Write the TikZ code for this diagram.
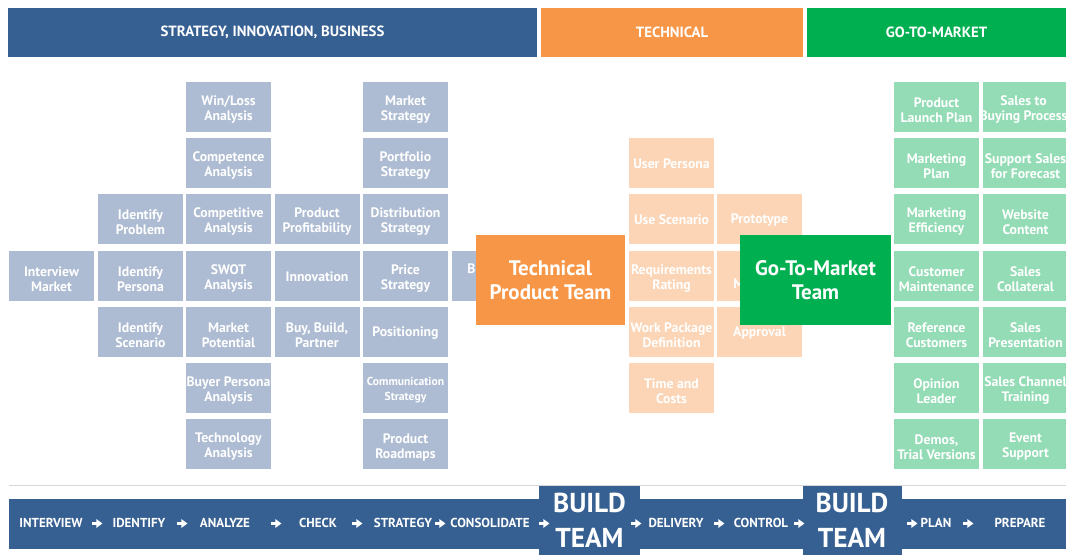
\documentclass[tikz,border=0pt]{standalone}
\usepackage{fontspec}
\setmainfont{PT Sans}
\usetikzlibrary{arrows.meta}
\definecolor{hblue}{RGB}{55,96,146}
\definecolor{horange}{RGB}{247,150,70}
\definecolor{hgreen}{RGB}{0,176,80}
\definecolor{tblue}{RGB}{173,188,210}
\definecolor{torange}{RGB}{251,213,181}
\definecolor{tgreen}{RGB}{147,220,181}
\definecolor{sepgray}{RGB}{215,215,215}
\tikzset{
  tile/.style={rectangle, minimum width=63.75pt, minimum height=37.5pt, inner sep=0pt},
  btile/.style={tile, fill=tblue},
  otile/.style={tile, fill=torange},
  gtile/.style={tile, fill=tgreen},
  tiletext/.style={inner sep=0pt, align=center, text=white, font=\fontsize{10.3}{11.25}\selectfont\bfseries},
  smalltext/.style={tiletext, font=\fontsize{8.7}{11}\selectfont\bfseries},
  hdr/.style={rectangle, minimum height=36.75pt, inner sep=0pt, text=white,
    font=\fontsize{11.1}{13}\selectfont\bfseries},
  team/.style={rectangle, minimum height=67.5pt, inner sep=0pt, align=center, text=white,
    font=\fontsize{15.75}{18}\selectfont\bfseries},
  bartext/.style={inner sep=0pt, text=white, font=\fontsize{9.75}{11}\selectfont\bfseries},
  buildbox/.style={rectangle, fill=hblue, minimum height=51.75pt, inner sep=0pt},
  buildtext/.style={inner sep=0pt, anchor=base, text=white, font=\fontsize{20.5}{28}\selectfont\bfseries},
  barrow/.style={white, line width=2.2pt, -{Triangle[length=4.5pt,width=6.2pt]}},
  hidden/.style={inner sep=0pt, text=white, font=\fontsize{10.3}{11.25}\selectfont\bfseries, anchor=west}
}
% #1 tile style, #2 name, #3 position, #4 text shift (px), #5 text
\newcommand\tileat[5]{%
  \node[#1] (#2) at (#3) {};
  \node[tiletext] (#2t) at ([yshift=-#4*0.75pt]#2.center) {#5};}
\begin{document}
\begin{tikzpicture}[x=0.75pt,y=-0.75pt]
\useasboundingbox (0,0) rectangle (1066,555);
\fill[white] (0,0) rectangle (1066,555);
% headers
\node[hdr, fill=hblue, minimum width=396.75pt] (h1) at (272.5,32.5) {STRATEGY, INNOVATION, BUSINESS};
\node[hdr, fill=horange, minimum width=196.5pt] (h2) at (672,32.5) {TECHNICAL};
\node[hdr, fill=hgreen, minimum width=194.25pt] (h3) at (936.5,32.5) {GO-TO-MARKET};
% strategy tiles
\tileat{btile}{im}{51.5,276}{3}{Interview\\Market}
\tileat{btile}{ipa}{140.5,219}{3}{Identify\\Problem}
\tileat{btile}{ipb}{140.5,276}{3}{Identify\\Persona}
\tileat{btile}{is}{140.5,332}{3}{Identify\\Scenario}
\tileat{btile}{wl}{228.5,107}{3}{Win/Loss\\Analysis}
\tileat{btile}{ca}{228.5,163}{3}{Competence\\Analysis}
\tileat{btile}{cpa}{228.5,219}{3}{Competitive\\Analysis}
\tileat{btile}{sw}{228.5,276}{3}{SWOT\\Analysis}
\tileat{btile}{mp}{228.5,332}{3}{Market\\Potential}
\tileat{btile}{bp}{228.5,388}{3}{Buyer Persona\\Analysis}
\tileat{btile}{ta}{228.5,444}{3}{Technology\\Analysis}
\tileat{btile}{pp}{317,219}{3}{Product\\Profitability}
\tileat{btile}{inn}{317,276}{1}{Innovation}
\tileat{btile}{bbp}{317,332}{3}{Buy, Build,\\Partner}
\tileat{btile}{ms}{405.5,107}{3}{Market\\Strategy}
\tileat{btile}{ps}{405.5,163}{3}{Portfolio\\Strategy}
\tileat{btile}{ds}{405.5,219}{3}{Distribution\\Strategy}
\tileat{btile}{prs}{405.5,276}{3}{Price\\Strategy}
\tileat{btile}{pos}{405.5,332}{1}{Positioning}
\node[btile] (cs) at (405.5,388) {};
\node[smalltext] (cst) at ([yshift=-1.8pt]cs.center) {Communication\\Strategy};
\tileat{btile}{prm}{405.5,444}{3}{Product\\Roadmaps}
\node[btile] (bx) at (494.5,276) {};
\node[hidden] (bxt) at (467,269) {B};
% technical tiles
\tileat{otile}{up}{671.5,163}{1}{User Persona}
\tileat{otile}{us}{671.5,219}{1}{Use Scenario}
\tileat{otile}{rr}{671.5,276}{3}{Requirements\\Rating}
\tileat{otile}{wp}{671.5,332}{3}{Work Package\\Definition}
\tileat{otile}{tc}{671.5,388}{3}{Time and\\Costs}
\tileat{otile}{pt}{759.5,219}{1}{Prototype}
\node[otile] (mx) at (759.5,276) {};
\node[hidden] (mxt) at (733,284) {M};
\tileat{otile}{ap}{759.5,332}{1}{Approval}
% go-to-market tiles
\tileat{gtile}{ga}{936.5,107}{3}{Product\\Launch Plan}
\tileat{gtile}{gb}{936.5,163}{3}{Marketing\\Plan}
\tileat{gtile}{gc}{936.5,219}{3}{Marketing\\Efficiency}
\tileat{gtile}{gd}{936.5,276}{3}{Customer\\Maintenance}
\tileat{gtile}{ge}{936.5,332}{3}{Reference\\Customers}
\tileat{gtile}{gf}{936.5,388}{3}{Opinion\\Leader}
\tileat{gtile}{gg}{936.5,444}{3}{Demos,\\Trial Versions}
\node[gtile] (sa) at (1025.5,107) {};
\node[tiletext] (sat) at ([xshift=-1.5pt,yshift=-2.25pt]sa.center) {Sales to\\Buying Process};
\tileat{gtile}{sb}{1025.5,163}{3}{Support Sales\\for Forecast}
\tileat{gtile}{sc}{1025.5,219}{3}{Website\\Content}
\tileat{gtile}{sd}{1025.5,276}{3}{Sales\\Collateral}
\tileat{gtile}{se}{1025.5,332}{3}{Sales\\Presentation}
\tileat{gtile}{sf}{1025.5,388}{3}{Sales Channel\\Training}
\tileat{gtile}{sg}{1025.5,444}{3}{Event\\Support}
% team boxes
\node[team, fill=horange, minimum width=111.75pt] (tpt) at (550.5,280) {Technical\\Product Team};
\node[team, fill=hgreen, minimum width=113.25pt] (gtm) at (815.5,280) {Go-To-Market\\Team};
% bottom bar
\draw[sepgray, line width=0.75pt] (9,485) -- (1066,485);
\fill[hblue] (9,499) rectangle (1066,549);
\node[buildbox, minimum width=75.75pt] (bb1) at (589.5,520.5) {};
\node[buildbox, minimum width=74.25pt] (bb2) at (852,520.5) {};
\node[buildtext] (bt1a) at (589.5,512) {BUILD};
\node[buildtext] (bt1b) at (589.5,547.5) {TEAM};
\node[buildtext] (bt2a) at (852,512) {BUILD};
\node[buildtext] (bt2b) at (852,547.5) {TEAM};
\node[bartext] (w1) at (51,523) {INTERVIEW};
\node[bartext] (w2) at (139,523) {IDENTIFY};
\node[bartext] (w3) at (225,523) {ANALYZE};
\node[bartext] (w4) at (318,523) {CHECK};
\node[bartext] (w5) at (403,523) {STRATEGY};
\node[bartext] (w6) at (490,523) {CONSOLIDATE};
\node[bartext] (w7) at (676,523) {DELIVERY};
\node[bartext] (w8) at (761,523) {CONTROL};
\node[bartext] (w9) at (936,523) {PLAN};
\node[bartext] (w10) at (1020,523) {PREPARE};
\foreach \i/\xx in {1/97,2/182,3/276,4/357,5/440,6/544,7/636,8/719,9/799,10/912,11/968}{
  \coordinate (a\i) at (\xx,523.5);
  \draw[barrow] ([xshift=-4.1pt]a\i) -- ([xshift=4.1pt]a\i);
}
\end{tikzpicture}
\end{document}
